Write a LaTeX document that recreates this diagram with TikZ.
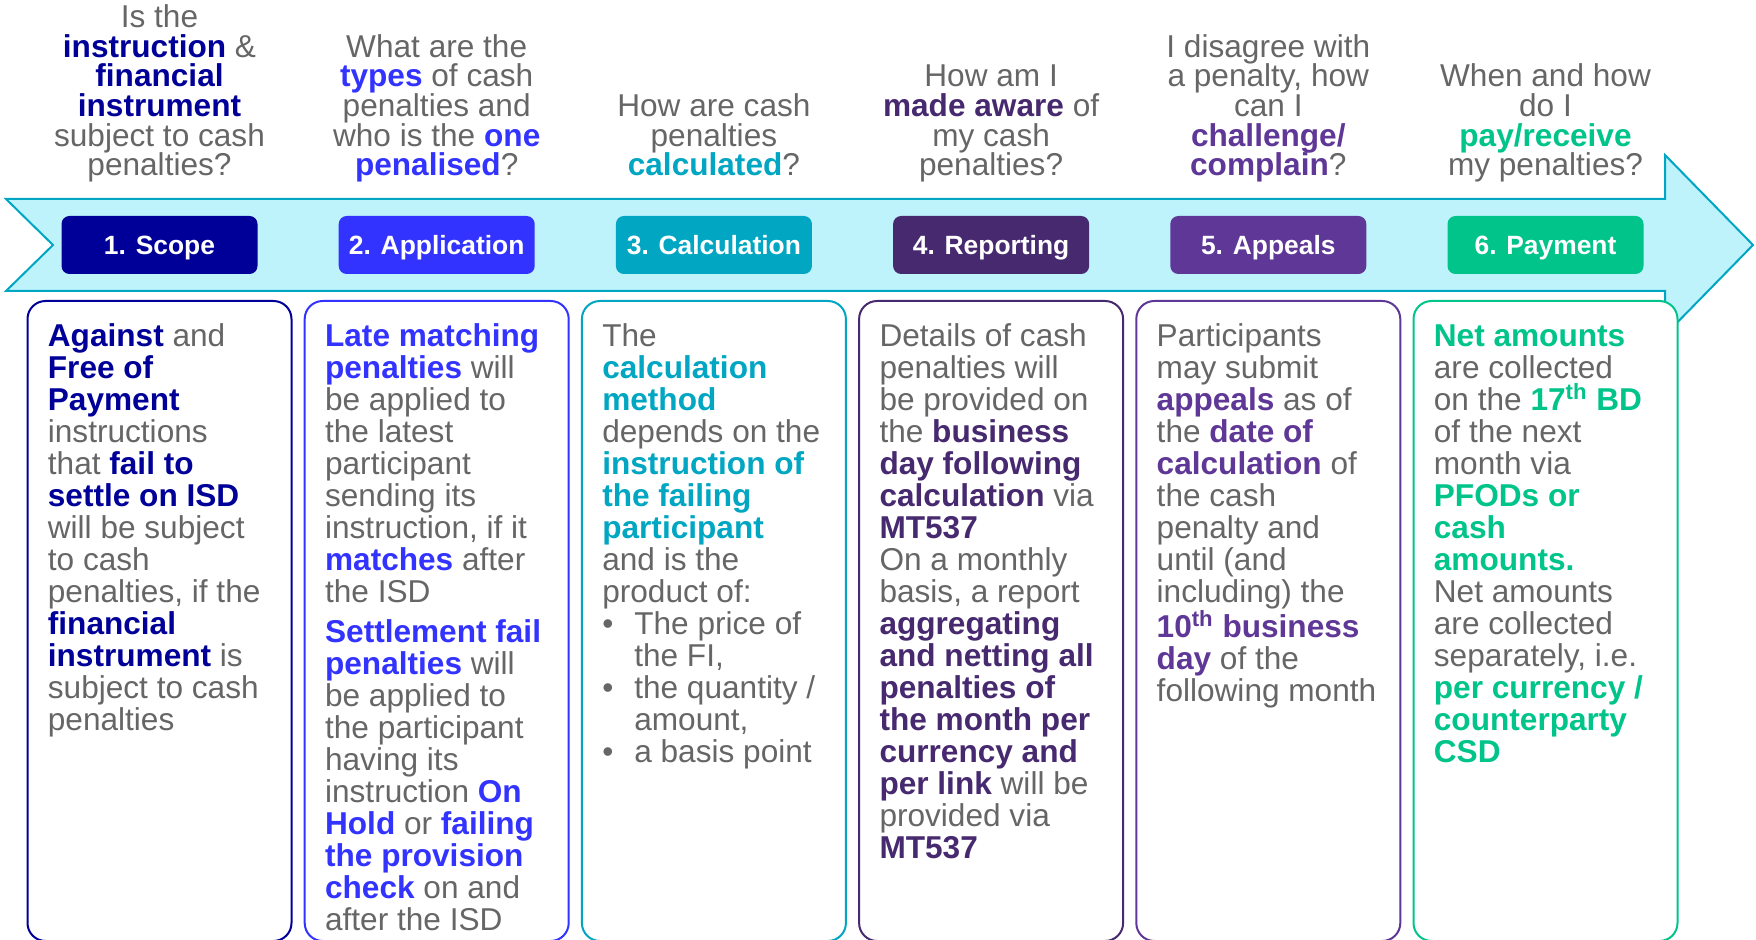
\documentclass[tikz,border=0pt]{standalone}
\usepackage{fontspec}
\setmainfont{Liberation Sans}
\usepackage{tikz}

\definecolor{scopeblue}{HTML}{000099}
\definecolor{applblue}{HTML}{3333FF}
\definecolor{calcteal}{HTML}{00A6C2}
\definecolor{reppurple}{HTML}{47296F}
\definecolor{appealpurple}{HTML}{5F3797}
\definecolor{paygreen}{HTML}{00C48A}
\definecolor{txtgray}{HTML}{666666}
\definecolor{bandfill}{HTML}{BFF3FC}
\definecolor{bandline}{HTML}{00A6C2}

\newcommand{\hlt}[2]{{\color{#1}\bfseries #2}}
\newcommand{\firstln}{\vrule height 12pt width 0pt}
\newcommand{\bul}{\makebox[16pt][l]{\textbullet}}

\begin{document}
\begin{tikzpicture}[x=0.5pt,y=-0.5pt,
    question/.style={anchor=south,align=center,inner sep=0pt,text=txtgray,
      font=\fontsize{15.8}{14.8}\selectfont},
    stepbtn/.style={rounded corners=4pt,minimum width=98pt,minimum height=29pt,
      inner sep=0pt,text height=9.5pt,text depth=0pt,text=white,
      font=\fontsize{13.2}{14}\selectfont\bfseries},
    detail/.style={draw,line width=1pt,rounded corners=9pt,fill=white,anchor=north,
      minimum width=132pt,minimum height=320pt,inner sep=0pt},
    body/.style={anchor=north west,align=left,inner sep=0pt,text=txtgray,
      font=\fontsize{15.8}{16}\selectfont}]
  \useasboundingbox (0,0) rectangle (1756,940);

  % timeline band
  \draw[bandline,line width=1pt,fill=bandfill]
    (6,199) -- (1665,199) -- (1665,155) -- (1753,245) -- (1665,335)
    -- (1665,291) -- (6,291) -- (53,245) -- cycle;

  \node[stepbtn,fill=scopeblue]    (S1) at ( 159.5,245) {1. Scope};
  \node[stepbtn,fill=applblue]     (S2) at ( 436.7,245) {2. Application};
  \node[stepbtn,fill=calcteal]     (S3) at ( 713.9,245) {3. Calculation};
  \node[stepbtn,fill=reppurple]    (S4) at ( 991.1,245) {4. Reporting};
  \node[stepbtn,fill=appealpurple] (S5) at (1268.3,245) {5. Appeals};
  \node[stepbtn,fill=paygreen]     (S6) at (1545.5,245) {6. Payment};

  % questions
  \node[question] (Q1) at ( 159.5,185) {Is the\\ \hlt{scopeblue}{instruction} \&\\
    \hlt{scopeblue}{financial}\\ \hlt{scopeblue}{instrument}\\ subject to cash\\ penalties?\strut};
  \node[question] (Q2) at ( 436.7,185) {What are the\\ \hlt{applblue}{types} of cash\\
    penalties and\\ who is the \hlt{applblue}{one}\\ \hlt{applblue}{penalised}?\strut};
  \node[question] (Q3) at ( 713.9,185) {How are cash\\ penalties\\ \hlt{calcteal}{calculated}?\strut};
  \node[question] (Q4) at ( 991.1,185) {How am I\\ \hlt{reppurple}{made aware} of\\
    my cash\\ penalties?\strut};
  \node[question] (Q5) at (1268.3,185) {I disagree with\\ a penalty, how\\ can I\\
    \hlt{appealpurple}{challenge/}\\ \hlt{appealpurple}{complain}?\strut};
  \node[question] (Q6) at (1545.5,185) {When and how\\ do I\\
    \hlt{paygreen}{pay/receive}\\ my penalties?\strut};

  % detail boxes
  \node[detail,draw=scopeblue]    (D1) at ( 159.5,300) {};
  \node[detail,draw=applblue]     (D2) at ( 436.7,300) {};
  \node[detail,draw=calcteal]     (D3) at ( 713.9,300) {};
  \node[detail,draw=reppurple]    (D4) at ( 991.1,300) {};
  \node[detail,draw=appealpurple] (D5) at (1268.3,300) {};
  \node[detail,draw=paygreen]     (D6) at (1545.5,300) {};

  \node[body] (T1) at (47.5,322) {\firstln\hlt{scopeblue}{Against} and\\
    \hlt{scopeblue}{Free of}\\ \hlt{scopeblue}{Payment}\\ instructions\\
    that \hlt{scopeblue}{fail to}\\ \hlt{scopeblue}{settle on ISD}\\ will be subject\\
    to cash\\ penalties, if the\\ \hlt{scopeblue}{financial}\\
    \hlt{scopeblue}{instrument} is\\ subject to cash\\ penalties};
  \node[body] (T2) at (324.7,322) {\firstln\hlt{applblue}{Late matching}\\
    \hlt{applblue}{penalties} will\\ be applied to\\ the latest\\ participant\\
    sending its\\ instruction, if it\\ \hlt{applblue}{matches} after\\ the ISD\\[4pt]
    \hlt{applblue}{Settlement fail}\\ \hlt{applblue}{penalties} will\\ be applied to\\
    the participant\\ having its\\ instruction \hlt{applblue}{On}\\
    \hlt{applblue}{Hold} or \hlt{applblue}{failing}\\ \hlt{applblue}{the provision}\\
    \hlt{applblue}{check} on and\\ after the ISD};
  \node[body] (T3) at (601.9,322) {\firstln The\\ \hlt{calcteal}{calculation}\\
    \hlt{calcteal}{method}\\ depends on the\\ \hlt{calcteal}{instruction of}\\
    \hlt{calcteal}{the failing}\\ \hlt{calcteal}{participant}\\ and is the\\ product of:\\
    \bul The price of\\ \hspace*{16pt}the FI,\\ \bul the quantity /\\
    \hspace*{16pt}amount,\\ \bul a basis point};
  \node[body] (T4) at (879.1,322) {\firstln Details of cash\\ penalties will\\
    be provided on\\ the \hlt{reppurple}{business}\\ \hlt{reppurple}{day following}\\
    \hlt{reppurple}{calculation} via\\ \hlt{reppurple}{MT537}\\ On a monthly\\
    basis, a report\\ \hlt{reppurple}{aggregating}\\ \hlt{reppurple}{and netting all}\\
    \hlt{reppurple}{penalties of}\\ \hlt{reppurple}{the month per}\\
    \hlt{reppurple}{currency and}\\ \hlt{reppurple}{per link} will be\\ provided via\\
    \hlt{reppurple}{MT537}};
  \node[body] (T5) at (1156.3,322) {\firstln Participants\\ may submit\\
    \hlt{appealpurple}{appeals} as of\\ the \hlt{appealpurple}{date of}\\
    \hlt{appealpurple}{calculation} of\\ the cash\\ penalty and\\ until (and\\
    including) the\\ \hlt{appealpurple}{10\textsuperscript{th} business}\\
    \hlt{appealpurple}{day} of the\\ following month};
  \node[body] (T6) at (1433.5,322) {\firstln\hlt{paygreen}{Net amounts}\\
    are collected\\ on the \hlt{paygreen}{17\textsuperscript{th} BD}\\ of the next\\
    month via\\ \hlt{paygreen}{PFODs or}\\ \hlt{paygreen}{cash}\\ \hlt{paygreen}{amounts.}\\
    Net amounts\\ are collected\\ separately, i.e.\\ \hlt{paygreen}{per currency /}\\
    \hlt{paygreen}{counterparty}\\ \hlt{paygreen}{CSD}};
\end{tikzpicture}
\end{document}
